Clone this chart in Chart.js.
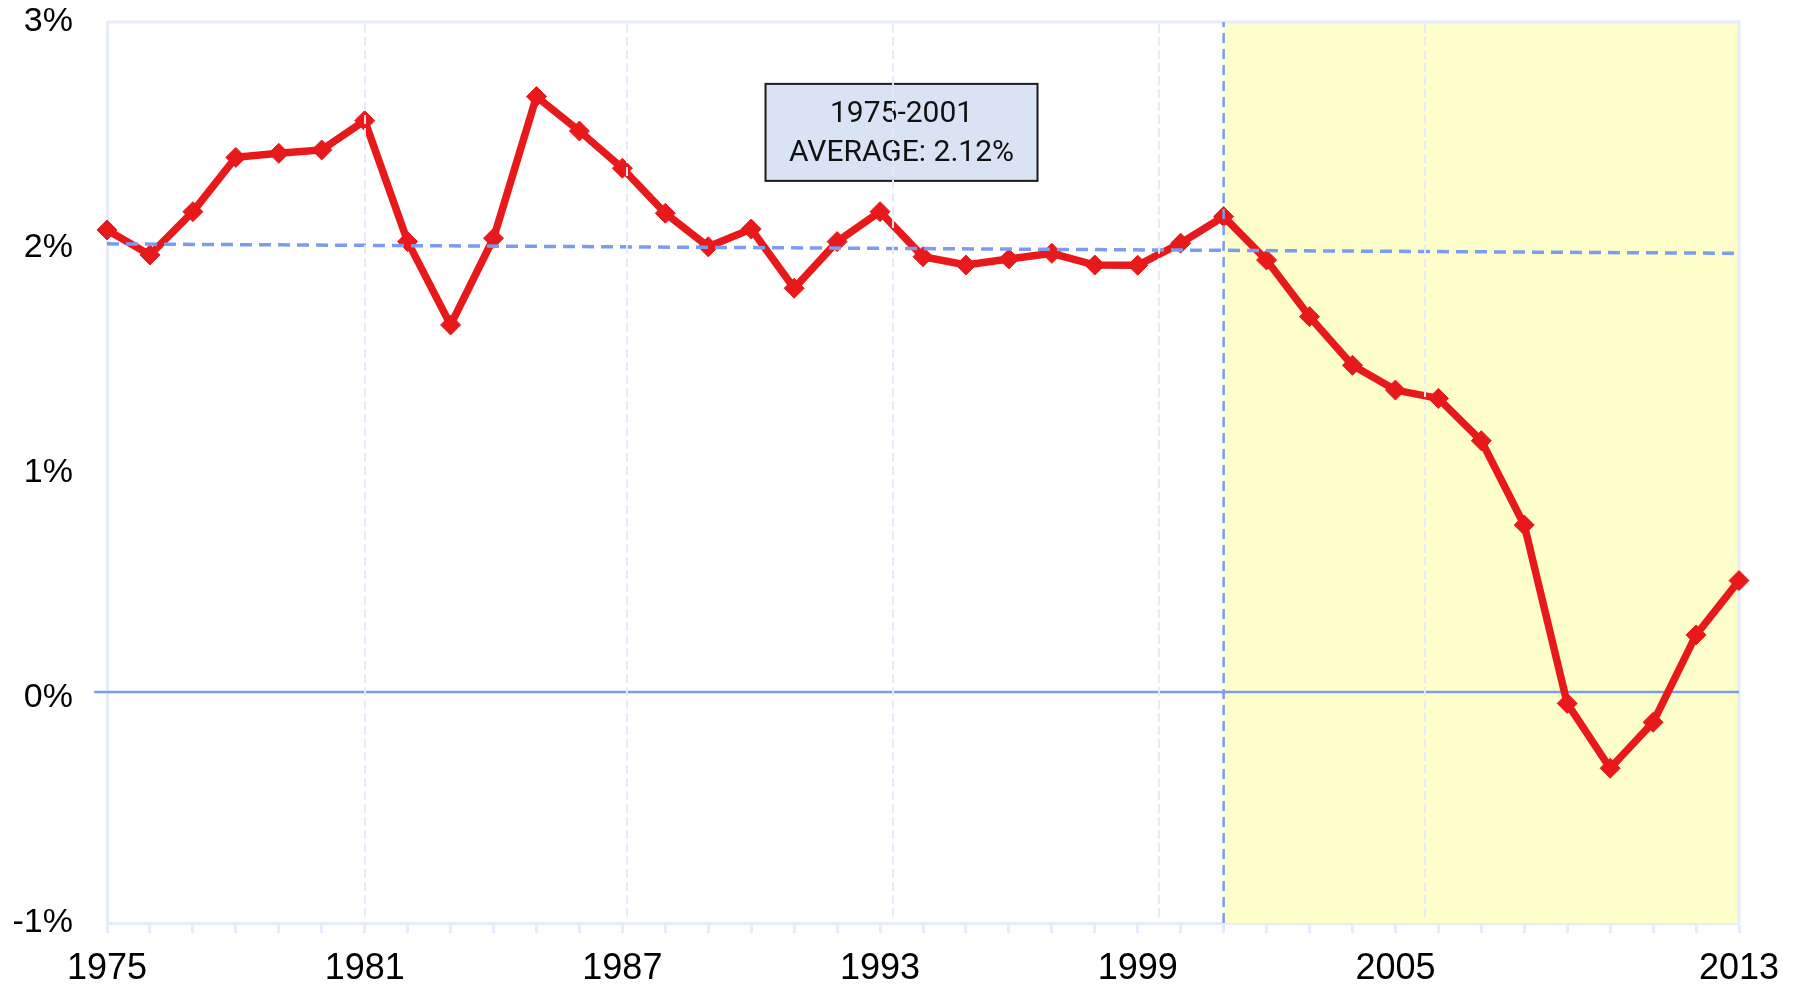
<!DOCTYPE html>
<html>
<head>
<meta charset="utf-8">
<script src="https://cdn.jsdelivr.net/npm/chart.js@4/dist/chart.umd.min.js"></script>
<style>
  html, body { margin: 0; padding: 0; background: #fff; }
  #wrap { width: 1798px; height: 985px; }
</style>
</head>
<body>
<div id="wrap"><canvas id="lineChart" width="1798" height="985"></canvas></div>
<script>
// values
const years = [1975, 1976, 1977, 1978, 1979, 1980, 1981, 1982, 1983, 1984,
    1985, 1986, 1987, 1988, 1989, 1990, 1991, 1992, 1993, 1994,
    1995, 1996, 1997, 1998, 1999, 2000, 2001, 2002, 2003, 2004,
    2005, 2006, 2007, 2008, 2009, 2010, 2011, 2012, 2013]
const growth = [2.077, 1.966, 2.158, 2.399, 2.417, 2.432, 2.562, 2.025, 1.655, 2.040,
    2.669, 2.516, 2.351, 2.151, 2.002, 2.081, 1.818, 2.025, 2.158, 1.958,
    1.921, 1.948, 1.973, 1.921, 1.920, 2.018, 2.136, 1.943, 1.692, 1.476,
    1.366, 1.329, 1.141, 0.767, -0.025, -0.313, -0.109, 0.279, 0.520]
const labelYears = [1975, 1981, 1987, 1993, 1999, 2005, 2013]
const gridYears = [1981, 1987.1, 1993.3, 1999.5, 2005.7]
const yTicks = [-1, 0, 1, 2, 3]

const avgLineX = [1975, 2013]
const avgLineY = [2.015, 1.973]
const zeroLineX = [1974.7, 2013]
const zeroLineY = [0.025, 0.025]
const splitYear = 2001
const boxLines = ['1975-2001', 'AVERAGE: 2.12%']

const lavender = '#e6ecfb'
const blue = '#7b9cf0'
const red = '#e8191b'

const backgroundPlugin = {
    id: 'background',
    beforeDatasetsDraw(chart) {
        const {ctx, chartArea, scales} = chart
        const x0 = scales.x.getPixelForValue(splitYear)
        ctx.save()
        ctx.fillStyle = '#ffffcc'
        ctx.fillRect(x0, chartArea.top, chartArea.right - x0, chartArea.bottom - chartArea.top)
        ctx.strokeStyle = lavender
        ctx.lineWidth = 3
        ctx.beginPath()
        ctx.moveTo(chartArea.left, chartArea.top)
        ctx.lineTo(chartArea.right, chartArea.top)
        ctx.lineTo(chartArea.right, chartArea.bottom)
        ctx.stroke()
        ctx.restore()
    },
    afterDatasetsDraw(chart) {
        const {ctx, chartArea, scales} = chart
        // annotation box
        const cx = scales.x.getPixelForValue(1993.5)
        const cy = scales.y.getPixelForValue(2.51)
        const w = 272, h = 97
        ctx.save()
        ctx.fillStyle = '#dae3f3'
        ctx.fillRect(cx - w / 2, cy - h / 2, w, h)
        ctx.strokeStyle = '#1a1a1a'
        ctx.lineWidth = 2
        ctx.strokeRect(cx - w / 2, cy - h / 2, w, h)
        ctx.fillStyle = '#111'
        ctx.font = '30px Roboto, "Liberation Sans", sans-serif'
        ctx.textAlign = 'center'
        ctx.textBaseline = 'middle'
        ctx.fillText(boxLines[0], cx, cy - 18)
        ctx.fillText(boxLines[1], cx, cy + 21)
        // vertical grid lines on top
        ctx.strokeStyle = 'rgba(228,234,250,0.95)'
        ctx.lineWidth = 2
        ctx.setLineDash([9, 4])
        gridYears.forEach(v => {
            const x = Math.round(scales.x.getPixelForValue(v))
            ctx.beginPath()
            ctx.moveTo(x, chartArea.top + 2)
            ctx.lineTo(x, chartArea.bottom - 2)
            ctx.stroke()
        })
        ctx.restore()
    }
}

const ctxL = document.getElementById('lineChart').getContext('2d')
const myLineChart = new Chart(ctxL, {
    type: 'line',
    data: {
        datasets: [
            {
                label: 'avg',
                data: avgLineX.map((x, i) => ({x: x, y: avgLineY[i]})),
                borderColor: blue,
                borderWidth: 3.5,
                borderDash: [12, 7],
                pointRadius: 0,
                order: 1
            },
            {
                label: 'split',
                data: [{x: splitYear, y: -1}, {x: splitYear, y: 3}],
                borderColor: blue,
                borderWidth: 2.5,
                borderDash: [10, 6],
                pointRadius: 0,
                order: 1
            },
            {
                label: 'growth',
                data: years.map((x, i) => ({x: x, y: growth[i]})),
                borderColor: red,
                backgroundColor: red,
                borderWidth: 7.5,
                pointStyle: 'rectRot',
                pointRadius: 10,
                pointBorderWidth: 1,
                pointBorderColor: red,
                pointBackgroundColor: red,
                tension: 0,
                clip: false,
                order: 2
            },
            {
                label: 'zero',
                data: zeroLineX.map((x, i) => ({x: x, y: zeroLineY[i]})),
                borderColor: blue,
                borderWidth: 2.5,
                pointRadius: 0,
                clip: false,
                order: 3
            }
        ]
    },
    options: {
        responsive: false,
        animation: false,
        devicePixelRatio: 1,
        layout: {padding: {top: 22, right: 59, bottom: 0, left: 0}},
        plugins: {
            legend: {display: false},
            tooltip: {enabled: false}
        },
        scales: {
            x: {
                type: 'linear',
                min: 1975,
                max: 2013,
                afterBuildTicks: scale => {
                    scale.ticks = years.map(v => ({value: v}))
                },
                afterFit: scale => {
                    scale.height = 62
                    scale.paddingLeft = 0
                    scale.paddingRight = 0
                },
                grid: {
                    drawOnChartArea: false,
                    drawTicks: true,
                    tickLength: 10,
                    tickWidth: 3,
                    tickColor: lavender
                },
                border: {display: true, color: lavender, width: 3},
                ticks: {
                    autoSkip: false,
                    maxRotation: 0,
                    padding: 14,
                    color: '#000',
                    font: {family: '"Liberation Sans", Arial, sans-serif', size: 36},
                    callback: value => labelYears.includes(value) ? String(value) : ''
                }
            },
            y: {
                min: -1,
                max: 3,
                afterBuildTicks: scale => {
                    scale.ticks = yTicks.map(v => ({value: v}))
                },
                afterFit: scale => {
                    scale.width = 107
                    scale.paddingTop = 0
                    scale.paddingBottom = 0
                },
                grid: {display: false, drawTicks: false},
                border: {display: true, color: lavender, width: 3},
                ticks: {
                    padding: 34,
                    color: '#000',
                    font: {family: '"Liberation Sans", Arial, sans-serif', size: 34},
                    callback: value => value + '%'
                }
            }
        }
    },
    plugins: [backgroundPlugin]
})
</script>
</body>
</html>
